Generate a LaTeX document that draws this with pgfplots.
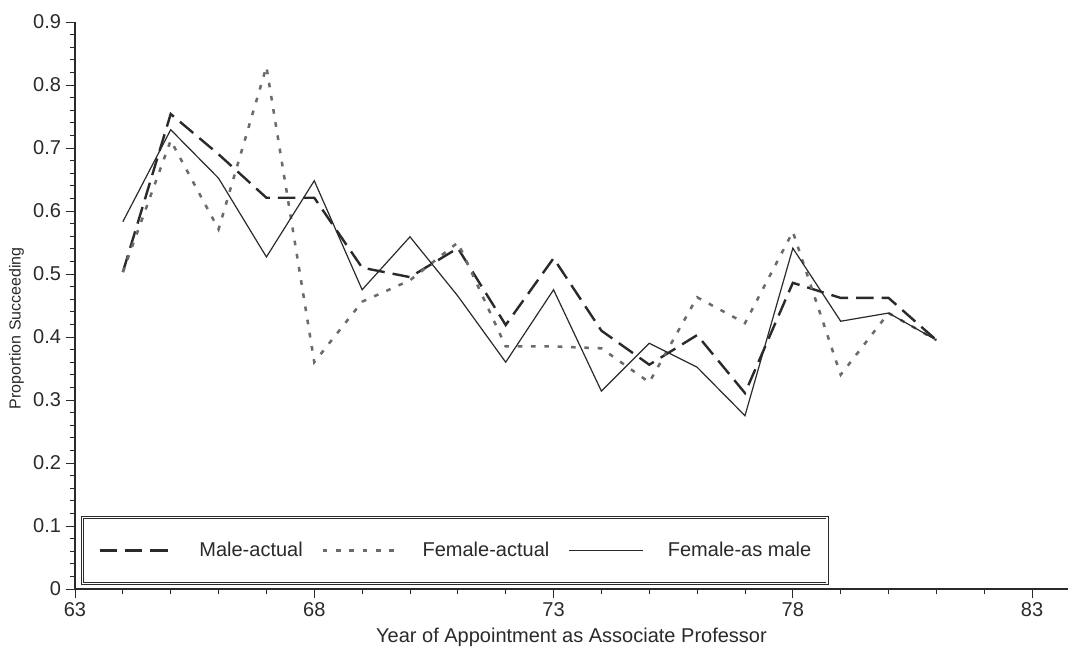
\documentclass[border=0pt]{standalone}
\usepackage{pgfplots}
\pgfplotsset{compat=1.18}
\usepackage{fontspec}
\setmainfont{Liberation Sans}
\definecolor{ink}{HTML}{2A2A2A}
\begin{document}
\begin{tikzpicture}
\begin{axis}[name=ax, scale only axis, width=744.75pt, height=425.25pt,
  xmin=63, xmax=83.75, ymin=0, ymax=0.9,
  axis x line=bottom, axis y line=left,
  axis line style={-, line width=1pt, ink},
  xtick={63,68,73,78,83}, minor x tick num=4,
  ytick={0,0.1,0.2,0.3,0.4,0.5,0.6,0.7,0.8,0.9}, minor y tick num=4,
  tick align=outside, major tick length=7pt, minor tick length=4pt,
  every tick/.style={ink, line width=0.7pt},
  /pgf/number format/assume math mode=true,
  yticklabel style={/pgf/number format/fixed, /pgf/number format/precision=1},
  scaled y ticks=false,
  tick label style={font=\fontsize{15}{18}\selectfont, text=ink},
  xlabel={Year of Appointment as Associate Professor},
  ylabel={Proportion Succeeding},
  xlabel style={font=\fontsize{15}{18}\selectfont, text=ink, at={(ticklabel cs:0.5)}, anchor=north, yshift=-1pt},
  ylabel style={font=\fontsize{12}{14}\selectfont, text=ink, at={(ticklabel cs:0.46)}},
  clip=false,
  legend columns=3,
  legend style={at={(axis cs:63.146,0.114)}, anchor=north west,
    draw=ink, line width=0.5pt, double=white, double distance=1.2pt,
    inner xsep=12pt, inner ysep=18.5pt,
    font=\fontsize{15}{18}\selectfont, text=ink,
    nodes={inner sep=0pt},
    /tikz/every odd column/.append style={column sep=18pt},
    /tikz/every even column/.append style={column sep=14pt}},
  legend image code/.code={\draw[#1] (0pt,0pt) -- (56pt,0pt);},
]
\addplot[ink, line width=1.8pt, dash pattern=on 13pt off 6pt] coordinates {
(64,0.503) (65,0.754) (66,0.690) (67,0.621) (68,0.621) (69,0.510) (70,0.495)
(71,0.541) (72,0.419) (73,0.525) (74,0.410) (75,0.356) (76,0.403) (77,0.311)
(78,0.486) (79,0.462) (80,0.462) (81,0.395)};
\addlegendentry{Male-actual}
\addplot[black!58, line width=1.9pt, dash pattern=on 3.5pt off 6.5pt] coordinates {
(64,0.503) (65,0.712) (66,0.571) (67,0.829) (68,0.360) (69,0.456) (70,0.490)
(71,0.550) (72,0.385) (73,0.385) (74,0.382) (75,0.328) (76,0.463) (77,0.422)
(78,0.567) (79,0.340) (80,0.438) (81,0.395)};
\addlegendentry{Female-actual}
\addplot[ink, line width=0.9pt] coordinates {
(64,0.583) (65,0.729) (66,0.652) (67,0.527) (68,0.648) (69,0.475) (70,0.559)
(71,0.465) (72,0.360) (73,0.475) (74,0.314) (75,0.390) (76,0.352) (77,0.275)
(78,0.541) (79,0.425) (80,0.438) (81,0.395)};
\addlegendentry{Female-as male}
\end{axis}
\pgfresetboundingbox
\path ([xshift=-56.25pt,yshift=-48pt]ax.south west) rectangle ([yshift=16.5pt]ax.north east);
\end{tikzpicture}
\end{document}
